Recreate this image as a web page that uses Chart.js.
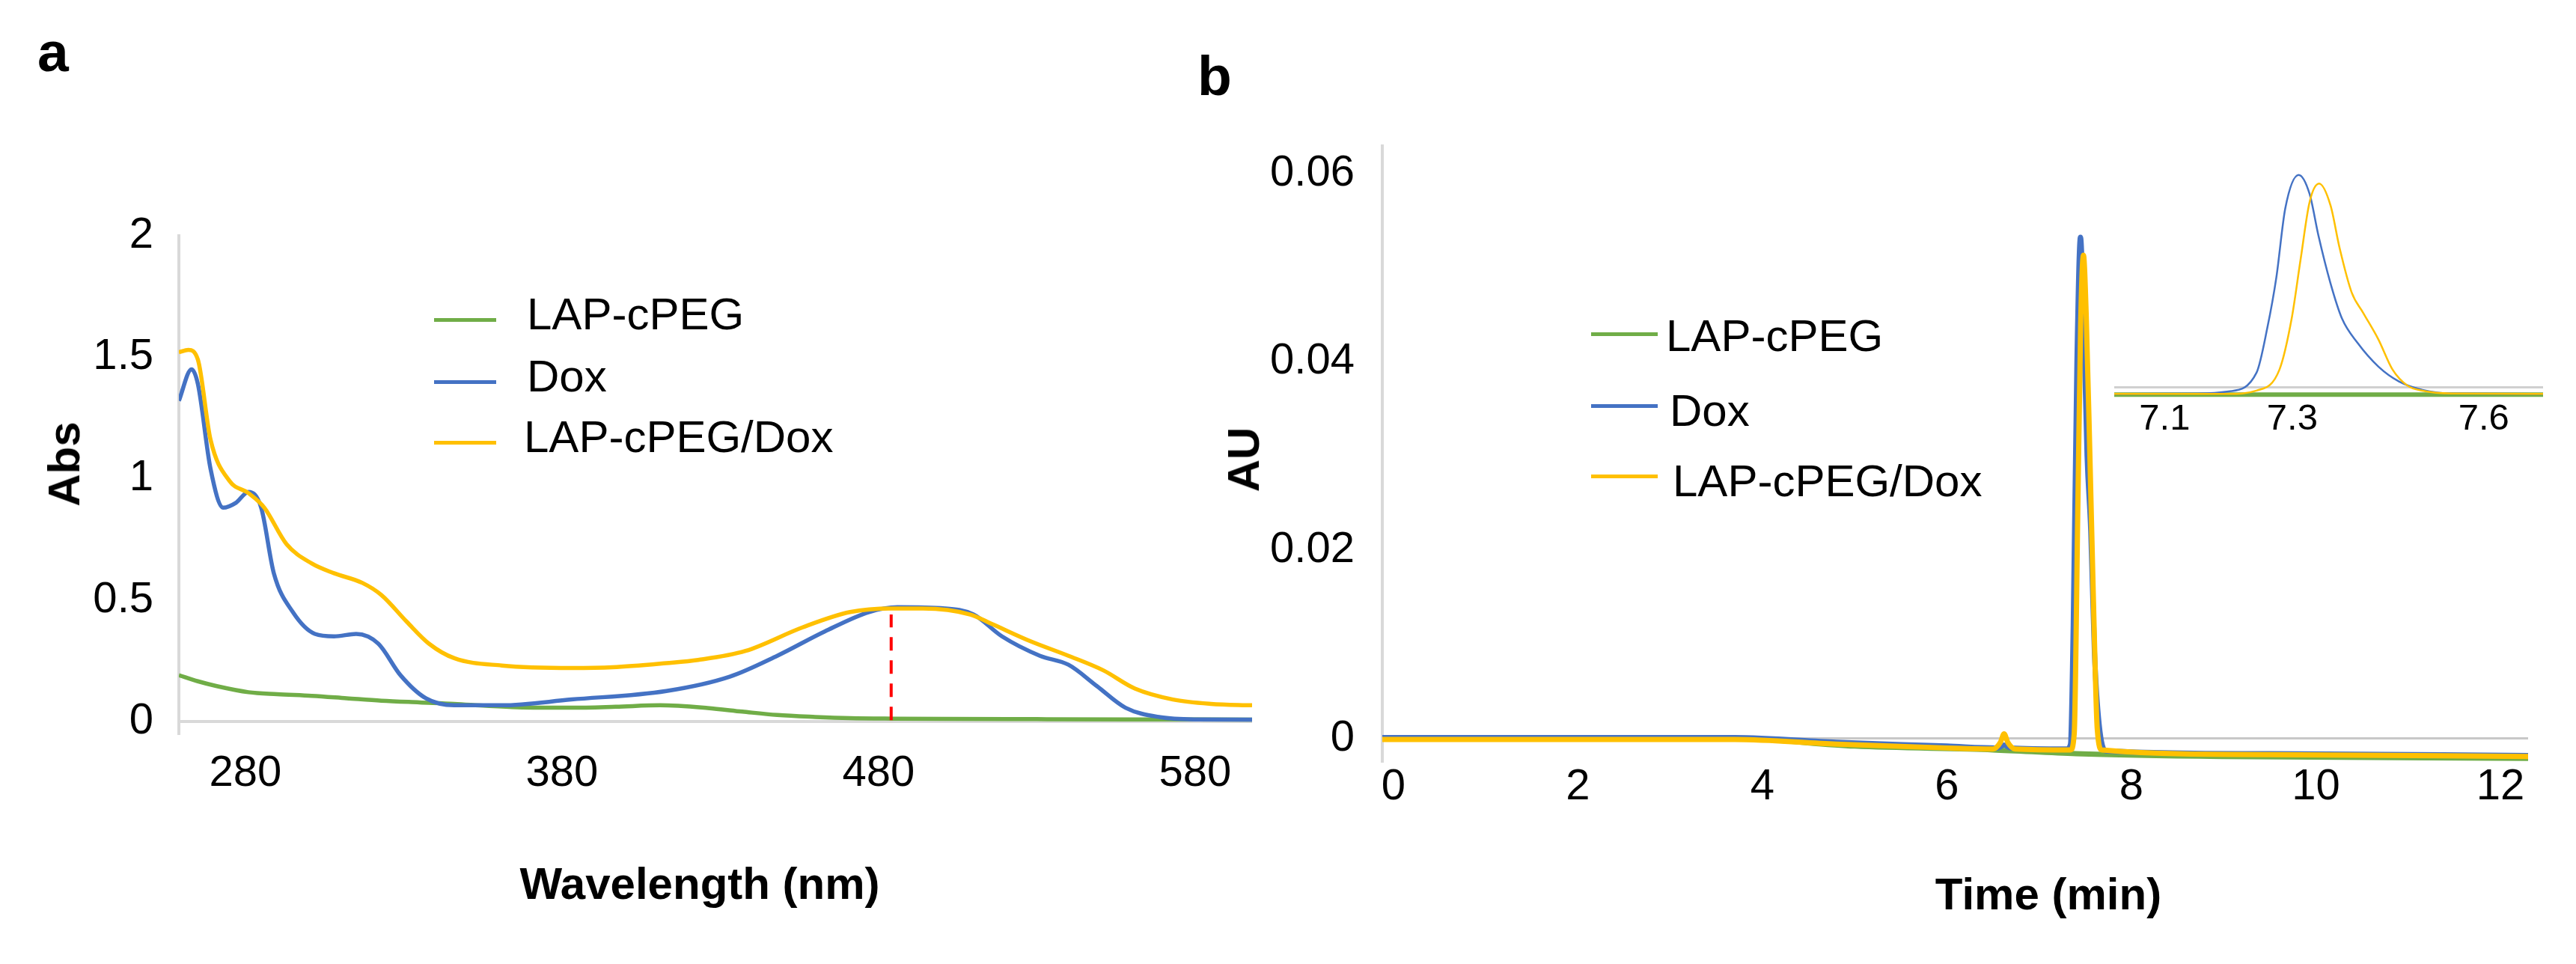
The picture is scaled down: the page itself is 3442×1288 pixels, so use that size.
<!DOCTYPE html>
<html>
<head>
<meta charset="utf-8">
<script src="https://cdn.jsdelivr.net/npm/chart.js@4.4.1/dist/chart.umd.min.js"></script>
<style>
  html, body { margin: 0; padding: 0; background: #fff; }
  body { width: 3442px; height: 1288px; position: relative; overflow: hidden; font-family: "Liberation Sans", Arial, sans-serif; }
  canvas { position: absolute; }
  .txt { position: absolute; white-space: nowrap; line-height: 1; color: #000; }
  .panel { font-weight: bold; font-size: 75px; }
  .axis-title { font-weight: bold; font-size: 60px; transform: translate(-50%, -50%); }
  .axis-title.vertical { transform: translate(-50%, -50%) rotate(-90deg); }
  .legend-text { font-size: 60px; }
  .legend-line { position: absolute; height: 5px; }
</style>
</head>
<body>
<div class="txt panel" style="left:50px; top:32px;">a</div>
<div class="txt panel" style="left:1600px; top:64px;">b</div>

<canvas id="chart-a" width="1720" height="1288" style="left:0; top:0;"></canvas>
<canvas id="chart-b" width="1882" height="1288" style="left:1560px; top:0;"></canvas>
<canvas id="chart-inset" width="662" height="450" style="left:2780px; top:150px;"></canvas>

<!-- axis titles -->
<div class="txt axis-title vertical" style="left:86px; top:620px;">Abs</div>
<div class="txt axis-title" style="left:935px; top:1181px;">Wavelength (nm)</div>
<div class="txt axis-title vertical" style="left:1662px; top:614px;">AU</div>
<div class="txt axis-title" style="left:2737px; top:1195px;">Time (min)</div>

<!-- legend panel a -->
<div class="legend-line" style="left:580px; top:425px; width:83px; background:#70ad47;"></div>
<div class="txt legend-text" style="left:704px; top:390px;">LAP-cPEG</div>
<div class="legend-line" style="left:580px; top:508px; width:83px; background:#4472c4;"></div>
<div class="txt legend-text" style="left:704px; top:473px;">Dox</div>
<div class="legend-line" style="left:580px; top:589px; width:83px; background:#ffc000;"></div>
<div class="txt legend-text" style="left:700px; top:554px;">LAP-cPEG/Dox</div>

<!-- legend panel b -->
<div class="legend-line" style="left:2126px; top:444px; width:89px; background:#70ad47;"></div>
<div class="txt legend-text" style="left:2226px; top:419px;">LAP-cPEG</div>
<div class="legend-line" style="left:2126px; top:540px; width:89px; background:#4472c4;"></div>
<div class="txt legend-text" style="left:2231px; top:519px;">Dox</div>
<div class="legend-line" style="left:2126px; top:634px; width:89px; background:#ffc000;"></div>
<div class="txt legend-text" style="left:2235px; top:613px;">LAP-cPEG/Dox</div>

<script>
// ---- panel a: UV-vis spectra ----
const lapWl  = [259, 265, 271, 281, 290, 301, 312, 323, 335, 346, 356, 366, 383, 397, 411, 426, 437, 448, 460, 471, 485, 501, 530, 560, 598];
const lapAbs = [0.19, 0.165, 0.145, 0.12, 0.112, 0.105, 0.095, 0.085, 0.078, 0.072, 0.064, 0.058, 0.056, 0.06, 0.066, 0.055, 0.04, 0.026, 0.018, 0.013, 0.011, 0.01, 0.009, 0.008, 0.007];

const doxWl  = [259, 263, 265, 269, 273, 277, 281, 285, 289, 295, 302, 308, 315, 322, 329, 337, 346, 361, 383, 413, 433, 448, 463, 477, 486, 501, 510, 519, 531, 540, 549, 558, 569, 580, 598];
const doxAbs = [1.32, 1.45, 1.39, 1.04, 0.88, 0.9, 0.945, 0.88, 0.61, 0.45, 0.36, 0.35, 0.36, 0.32, 0.19, 0.095, 0.066, 0.066, 0.09, 0.125, 0.184, 0.27, 0.37, 0.45, 0.47, 0.465, 0.44, 0.35, 0.27, 0.233, 0.145, 0.056, 0.017, 0.008, 0.007];

const mixWl  = [259, 262, 265, 269, 275, 281, 286, 293, 301, 308, 317, 323, 331, 338, 346, 361, 383, 396, 413, 423, 438, 456, 471, 484, 494, 509, 516, 528, 540, 551, 561, 573, 585, 598];
const mixAbs = [1.52, 1.53, 1.49, 1.16, 0.99, 0.94, 0.88, 0.73, 0.65, 0.61, 0.57, 0.52, 0.41, 0.32, 0.26, 0.23, 0.22, 0.223, 0.24, 0.253, 0.29, 0.387, 0.45, 0.465, 0.465, 0.44, 0.4, 0.33, 0.27, 0.21, 0.135, 0.09, 0.072, 0.066];

// red dashed marker at the absorption maximum
const lambdaMaxWl  = [484, 484];
const lambdaMaxAbs = [0.005, 0.44];

const wlTicks  = [280, 380, 480, 580];
const absTicks = [0, 0.5, 1, 1.5, 2];

// ---- panel b: HPLC chromatograms ----
const lapTime = [-0.12, 3.7, 5.0, 6.5, 7.4, 9.0, 12.3];
const lapAU   = [0, 0, -0.0008, -0.0012, -0.0016, -0.0019, -0.0021];

const doxTime = [-0.12, 3.7, 4.8, 6.0, 6.55, 6.62, 6.69, 7.3, 7.34, 7.37, 7.41, 7.448, 7.48, 7.52, 7.56, 7.6, 7.65, 7.72, 9.5, 12.3];
const doxAU   = [0.0001, 0.0001, -0.0004, -0.0008, -0.001, -0.0007, -0.001, -0.0011, -0.0006, 0.012, 0.04, 0.0532, 0.045, 0.03, 0.022, 0.009, 0.0015, -0.0013, -0.0016, -0.0018];

const mixTime = [-0.12, 3.7, 4.8, 6.0, 6.5, 6.58, 6.62, 6.66, 6.74, 7.34, 7.38, 7.42, 7.45, 7.48, 7.51, 7.55, 7.59, 7.63, 7.68, 9.5, 12.3];
const mixAU   = [-0.0001, -0.0001, -0.0006, -0.001, -0.0011, -0.0004, 0.0005, -0.0004, -0.0011, -0.0012, 0.0005, 0.025, 0.044, 0.0513, 0.045, 0.03, 0.014, 0.001, -0.0012, -0.0017, -0.0019];

const timeTicks = [0, 2, 4, 6, 8, 10, 12];
const auTicks   = [0, 0.02, 0.04, 0.06];

// inset: zoom on the main peak
const insetLapTime = [7.02, 7.693];
const insetLapAU   = [-0.0018, -0.0018];
const insetDoxTime = [7.02, 7.15, 7.2, 7.244, 7.261, 7.275, 7.289, 7.31, 7.327, 7.341, 7.36, 7.378, 7.402, 7.435, 7.467, 7.504, 7.55, 7.693];
const insetDoxAU   = [-0.0016, -0.0015, -0.001, 0.0037, 0.015, 0.0275, 0.0448, 0.0532, 0.0485, 0.038, 0.026, 0.0172, 0.0112, 0.0052, 0.0015, -0.0006, -0.0015, -0.0016];
const insetMixTime = [7.02, 7.2, 7.244, 7.28, 7.299, 7.313, 7.327, 7.342, 7.36, 7.374, 7.393, 7.411, 7.435, 7.457, 7.481, 7.504, 7.55, 7.693];
const insetMixAU   = [-0.0016, -0.0016, -0.0008, 0.0045, 0.0172, 0.032, 0.0463, 0.051, 0.0455, 0.035, 0.0238, 0.0187, 0.012, 0.0045, 0.0004, -0.0008, -0.0015, -0.0016];
const insetTicks   = [7.1, 7.3, 7.6];

const GREEN = "#70ad47";
const BLUE = "#4472c4";
const YELLOW = "#ffc000";
const FONT = "'Liberation Sans', Arial, sans-serif";

Chart.defaults.font.family = FONT;
Chart.defaults.color = "#000";

// Helper: pair x and y arrays into Chart.js points
function toPoints(xs, ys) {
    return xs.map((x, i) => ({ x: x, y: ys[i] }));
}

function series(label, xs, ys, color, width, order) {
    return {
        label: label,
        data: toPoints(xs, ys),
        borderColor: color,
        borderWidth: width,
        pointRadius: 0,
        fill: false,
        tension: 0.4,
        cubicInterpolationMode: "monotone",
        order: order,
    };
}

// Helper: force the tick positions to a given list
function fixedTicks(values) {
    return (scale) => {
        scale.ticks = values.map((v) => ({ value: v }));
    };
}

// Only the zero line of the value axis is drawn
function zeroLine(color) {
    return (ctx) => (ctx.tick && ctx.tick.value === 0 ? color : "rgba(0,0,0,0)");
}

const baseOptions = {
    responsive: false,
    animation: false,
    devicePixelRatio: 1,
    events: [],
    plugins: { legend: { display: false }, tooltip: { enabled: false } },
};

// Panel a
new Chart(document.getElementById("chart-a"), {
    type: "line",
    data: {
        datasets: [
            series("LAP-cPEG", lapWl, lapAbs, GREEN, 5.5, 3),
            series("Dox", doxWl, doxAbs, BLUE, 5.5, 2),
            series("LAP-cPEG/Dox", mixWl, mixAbs, YELLOW, 5.5, 1),
            {
                label: "max",
                data: toPoints(lambdaMaxWl, lambdaMaxAbs),
                borderColor: "#ff0000",
                borderWidth: 4,
                borderDash: [18, 13],
                pointRadius: 0,
                order: 0,
            },
        ],
    },
    options: {
        ...baseOptions,
        layout: { padding: { left: 0, right: 47, top: 315, bottom: 0 } },
        scales: {
            x: {
                type: "linear",
                min: 259,
                max: 598,
                afterBuildTicks: fixedTicks(wlTicks),
                afterFit: (scale) => { scale.height = 308; },
                ticks: { font: { size: 58 }, padding: 19, autoSkip: false, maxRotation: 0, callback: (v) => String(v) },
                grid: { display: false, drawTicks: false },
                border: { display: false },
            },
            y: {
                type: "linear",
                min: -0.05,
                max: 2,
                afterBuildTicks: fixedTicks(absTicks),
                afterFit: (scale) => { scale.width = 239; },
                ticks: { font: { size: 58 }, padding: 34, callback: (v) => String(v) },
                grid: { color: zeroLine("#d9d9d9"), lineWidth: 4, drawTicks: false },
                border: { display: true, color: "#d9d9d9", width: 4 },
            },
        },
    },
});

// Panel b
new Chart(document.getElementById("chart-b"), {
    type: "line",
    data: {
        datasets: [
            series("LAP-cPEG", lapTime, lapAU, GREEN, 7, 3),
            series("Dox", doxTime, doxAU, BLUE, 7, 2),
            series("LAP-cPEG/Dox", mixTime, mixAU, YELLOW, 7, 1),
        ],
    },
    options: {
        ...baseOptions,
        layout: { padding: { left: 0, right: 64, top: 195, bottom: 0 } },
        scales: {
            x: {
                type: "linear",
                min: -0.12,
                max: 12.3,
                afterBuildTicks: fixedTicks(timeTicks),
                afterFit: (scale) => { scale.height = 271; },
                ticks: { font: { size: 58 }, padding: 0, autoSkip: false, maxRotation: 0, callback: (v) => String(v) },
                grid: { display: false, drawTicks: false },
                border: { display: false },
            },
            y: {
                type: "linear",
                min: -0.0024,
                max: 0.0629,
                afterBuildTicks: fixedTicks(auTicks),
                afterFit: (scale) => { scale.width = 287; },
                ticks: { font: { size: 58 }, padding: 37, callback: (v) => String(v) },
                grid: { color: zeroLine("#c8c8c8"), lineWidth: 3, drawTicks: false },
                border: { display: true, color: "#d9d9d9", width: 4 },
            },
        },
    },
});

// Inset of panel b
new Chart(document.getElementById("chart-inset"), {
    type: "line",
    data: {
        datasets: [
            series("LAP-cPEG", insetLapTime, insetLapAU, GREEN, 6, 3),
            series("Dox", insetDoxTime, insetDoxAU, BLUE, 2.5, 2),
            series("LAP-cPEG/Dox", insetMixTime, insetMixAU, YELLOW, 2.5, 1),
        ],
    },
    options: {
        ...baseOptions,
        layout: { padding: { left: 45, right: 44, top: 58, bottom: 0 } },
        scales: {
            x: {
                type: "linear",
                min: 7.021,
                max: 7.693,
                afterBuildTicks: fixedTicks(insetTicks),
                afterFit: (scale) => { scale.height = 69; },
                ticks: { font: { size: 49 }, padding: 0, autoSkip: false, maxRotation: 0, callback: (v) => String(v) },
                grid: { display: false, drawTicks: false },
                border: { display: false },
            },
            y: {
                type: "linear",
                min: -0.0025,
                max: 0.058,
                afterBuildTicks: fixedTicks([0]),
                afterFit: (scale) => { scale.width = 0; },
                ticks: { display: false },
                grid: { color: zeroLine("#d0d0d0"), lineWidth: 3, drawTicks: false },
                border: { display: false },
            },
        },
    },
});
</script>
</body>
</html>
